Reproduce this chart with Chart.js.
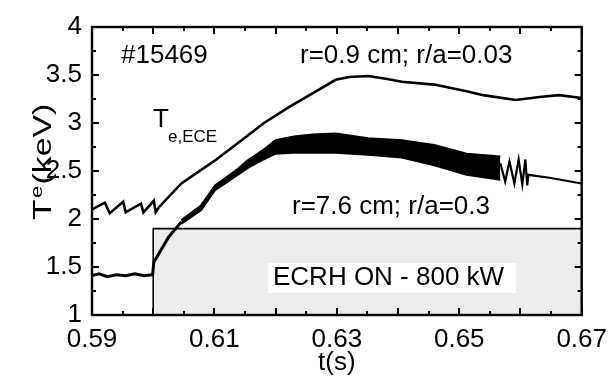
<!DOCTYPE html>
<html>
<head>
<meta charset="utf-8">
<script src="https://cdn.jsdelivr.net/npm/chart.js@4.4.1/dist/chart.umd.min.js"></script>
<style>
  html, body { margin: 0; padding: 0; background: #fff; }
  #wrap { width: 616px; height: 376px; }
</style>
</head>
<body>
<div id="wrap"><canvas id="teChart" width="616" height="376"></canvas></div>
<script>
/* Te(t) traces, shot #15469 */

// r = 0.9 cm (core) ECE trace
const tCore  = [0.5900, 0.5921, 0.5929, 0.5951, 0.5955, 0.5980, 0.5984, 0.6001, 0.6004, 0.6009,
                0.6046, 0.6101, 0.6138, 0.6181, 0.6223, 0.6261, 0.6298, 0.6320, 0.6351, 0.6380,
                0.6406, 0.6459, 0.6512, 0.6539, 0.6592, 0.6631, 0.6663, 0.6700];
const teCore = [2.10, 2.17, 2.06, 2.18, 2.07, 2.16, 2.07, 2.19, 2.07, 2.12,
                2.37, 2.61, 2.79, 3.00, 3.17, 3.31, 3.45, 3.48, 3.49, 3.46,
                3.43, 3.40, 3.33, 3.29, 3.24, 3.27, 3.29, 3.26];

// r = 7.6 cm trace, before the sawtooth band
const tEdge  = [0.5900, 0.5912, 0.5925, 0.5940, 0.5955, 0.5970, 0.5985, 0.5999, 0.6001, 0.6025, 0.6046];
const teEdge = [1.41, 1.43, 1.40, 1.42, 1.41, 1.43, 1.41, 1.42, 1.55, 1.81, 1.97];

// sawtooth band (envelope of the fast oscillation)
const tBand  = [0.6046, 0.6078, 0.6101, 0.6138, 0.6154, 0.6180, 0.6200, 0.6230, 0.6260, 0.6298,
                0.6351, 0.6406, 0.6459, 0.6512, 0.6567];
const bandHi = [1.99, 2.14, 2.35, 2.52, 2.61, 2.72, 2.82, 2.86, 2.88, 2.89,
                2.84, 2.82, 2.77, 2.68, 2.65];
const bandLo = [1.95, 2.09, 2.30, 2.46, 2.53, 2.62, 2.68, 2.69, 2.69, 2.69,
                2.67, 2.64, 2.56, 2.46, 2.41];

// last few crashes and the quiet tail
const tTail  = [0.6567, 0.6575, 0.6582, 0.6590, 0.6597, 0.6603, 0.6608, 0.6611, 0.6613, 0.6647, 0.6700];
const teTail = [2.58, 2.39, 2.60, 2.37, 2.62, 2.36, 2.62, 2.35, 2.46, 2.43, 2.37];

// ECRH pulse
const ecrhOn = 0.600;
const ecrhOff = 0.670;
const ecrhLevel = 1.9;

const xTickLabels = ['0.59', '0.61', '0.63', '0.65', '0.67'];
const yTickLabels = ['1', '1.5', '2', '2.5', '3', '3.5', '4'];

const FONT = '"Liberation Sans", Arial, Helvetica, sans-serif';

function pts(xs, ys) { return xs.map((x, i) => ({ x: x, y: ys[i] })); }

function lineSet(data, extra) {
  return Object.assign({
    data: data,
    borderColor: '#000',
    borderWidth: 2.6,
    pointRadius: 0,
    tension: 0,
    fill: false
  }, extra || {});
}

const frame = {
  id: 'frame',
  afterDraw(chart) {
    const ctx = chart.ctx;
    const a = chart.chartArea;
    const xs = chart.scales.x, ys = chart.scales.y;
    ctx.save();
    ctx.strokeStyle = '#000';
    ctx.lineWidth = 2.4;
    ctx.strokeRect(a.left, a.top, a.right - a.left, a.bottom - a.top);

    // inward ticks on all four sides
    ctx.lineWidth = 2;
    ctx.beginPath();
    for (let v = 0.59; v <= 0.6701; v += 0.005) {
      const px = Math.round(xs.getPixelForValue(v));
      const major = Math.abs(Math.round(v * 100) - v * 100) < 1e-6;
      const len = major ? 7 : 4;
      ctx.moveTo(px, a.bottom); ctx.lineTo(px, a.bottom - len);
      ctx.moveTo(px, a.top); ctx.lineTo(px, a.top + len);
    }
    for (let v = 1; v <= 4.001; v += 0.25) {
      const py = Math.round(ys.getPixelForValue(v));
      const major = Math.abs(Math.round(v * 2) - v * 2) < 1e-6;
      const len = major ? 7 : 4;
      ctx.moveTo(a.left, py); ctx.lineTo(a.left + len, py);
      ctx.moveTo(a.right, py); ctx.lineTo(a.right - len, py);
    }
    ctx.stroke();

    ctx.fillStyle = '#000';
    ctx.textBaseline = 'alphabetic';
    ctx.textAlign = 'left';
    ctx.font = '26px ' + FONT;
    ctx.fillText('#15469', 121, 63);
    ctx.fillText('r=0.9 cm; r/a=0.03', 300, 63);
    ctx.fillText('r=7.6 cm; r/a=0.3', 292, 214);
    ctx.fillText('T', 153, 127);
    ctx.font = '17px ' + FONT;
    ctx.fillText('e,ECE', 168, 142);

    // ECRH label on white
    ctx.fillStyle = '#fff';
    ctx.fillRect(268, 263, 248, 30);
    ctx.fillStyle = '#000';
    ctx.font = '26px ' + FONT;
    ctx.fillText('ECRH ON - 800 kW', 273, 285);

    // x title
    ctx.textAlign = 'center';
    ctx.fillText('t(s)', (a.left + a.right) / 2, 370);

    // y title, rotated and a bit stretched along the axis
    ctx.translate(51, 220);
    ctx.rotate(-Math.PI / 2);
    ctx.scale(1.3, 1);
    ctx.textAlign = 'left';
    ctx.font = '26px ' + FONT;
    ctx.fillText('T', 0, 0);
    const tw = ctx.measureText('T').width;
    ctx.font = '17px ' + FONT;
    ctx.fillText('e', tw + 1, -9);
    const ew = ctx.measureText('e').width;
    ctx.font = '26px ' + FONT;
    ctx.fillText('(keV)', tw + ew + 2, 0);
    ctx.restore();
  }
};

const ctx = document.getElementById('teChart').getContext('2d');
new Chart(ctx, {
  type: 'line',
  data: {
    datasets: [
      lineSet([{ x: ecrhOn, y: 1 }, { x: ecrhOn, y: ecrhLevel }, { x: ecrhOff, y: ecrhLevel }, { x: ecrhOff, y: 1 }],
        { borderWidth: 1.6, backgroundColor: '#ececec', fill: 'start', order: 5 }),
      lineSet(pts(tCore, teCore)),
      lineSet(pts(tEdge, teEdge), { borderWidth: 3 }),
      lineSet(pts(tBand, bandLo), { borderWidth: 2 }),
      lineSet(pts(tBand, bandHi), { borderWidth: 2, backgroundColor: '#000', fill: '-1' }),
      lineSet(pts(tTail, teTail), { borderWidth: 2.2 })
    ]
  },
  options: {
    responsive: false,
    animation: false,
    devicePixelRatio: 1,
    layout: { padding: { top: 27, right: 26, left: 0, bottom: 0 } },
    plugins: { legend: { display: false }, tooltip: { enabled: false } },
    scales: {
      x: {
        type: 'linear',
        min: 0.59, max: 0.67,
        grid: { display: false, drawTicks: false },
        border: { display: false },
        afterBuildTicks: s => { s.ticks = xTickLabels.map(l => ({ value: parseFloat(l) })); },
        afterFit: s => { s.height = 376 - 315; },
        ticks: {
          autoSkip: false, maxRotation: 0, padding: 9, color: '#000',
          font: { family: FONT, size: 26 },
          callback: (v, i) => xTickLabels[i]
        }
      },
      y: {
        type: 'linear',
        min: 1, max: 4,
        grid: { display: false, drawTicks: false },
        border: { display: false },
        afterBuildTicks: s => { s.ticks = yTickLabels.map(l => ({ value: parseFloat(l) })); },
        afterFit: s => { s.width = 92; },
        ticks: {
          autoSkip: false, padding: 10, color: '#000',
          font: { family: FONT, size: 26 },
          callback: (v, i) => yTickLabels[i]
        }
      }
    }
  },
  plugins: [frame]
});
</script>
</body>
</html>
